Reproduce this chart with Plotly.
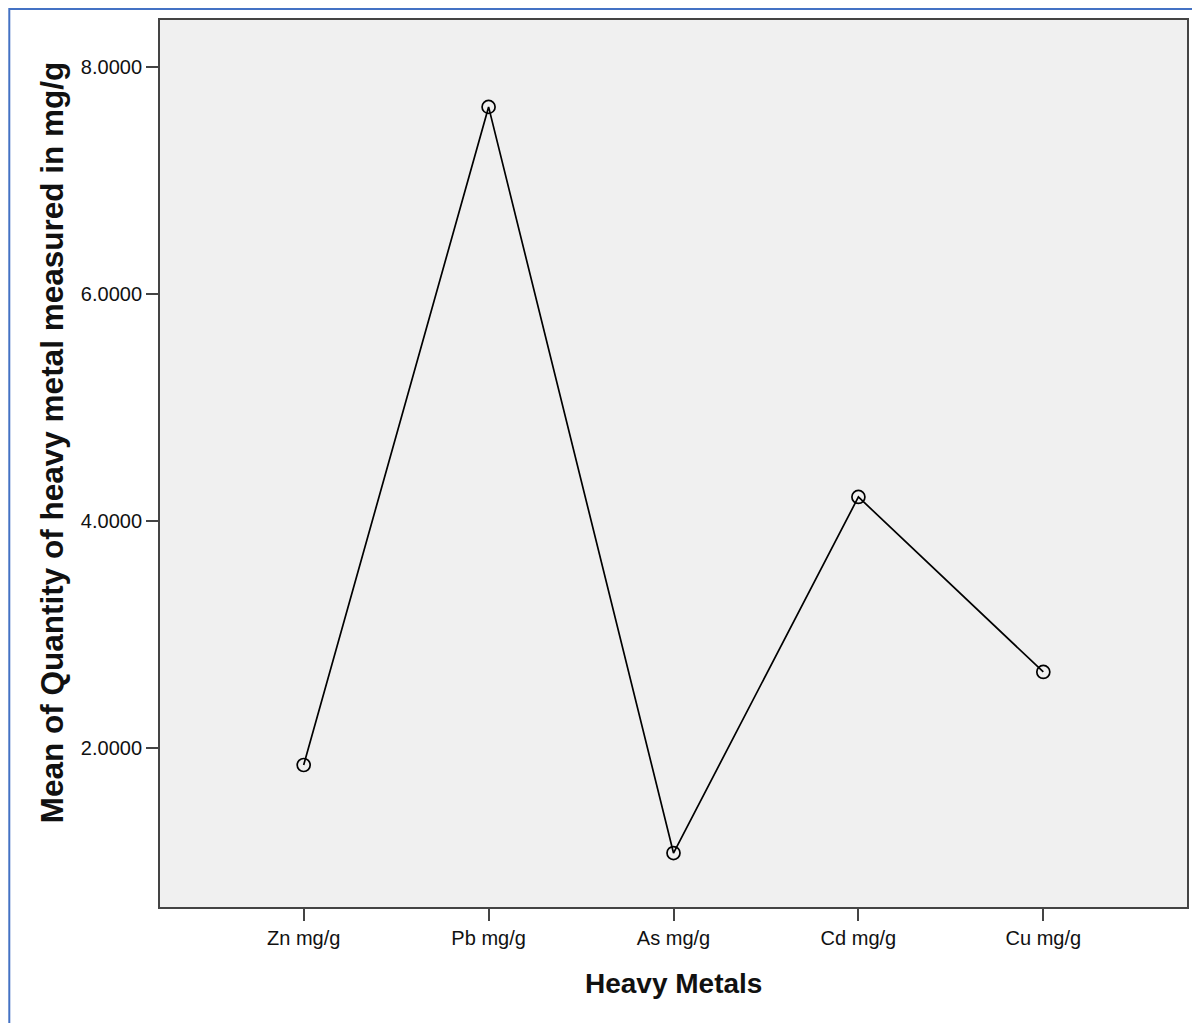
import plotly.graph_objects as go

categories = ["Zn mg/g", "Pb mg/g", "As mg/g", "Cd mg/g", "Cu mg/g"]
means = [1.853, 7.645, 1.078, 4.212, 2.672]
y_ticks = [2, 4, 6, 8]
y_ticktext = ["2.0000", "4.0000", "6.0000", "8.0000"]

W, H = 1192, 1023
L, R, T, B = 160, 3, 20, 116
pw, ph = W - L - R, H - T - B

def px_x(p):
    return (p - L) / pw

def px_y(p):
    return (H - B - p) / ph

fig = go.Figure()
fig.add_trace(go.Scatter(
    x=categories, y=means, mode="lines+markers",
    line=dict(color="black", width=1.7),
    marker=dict(symbol="circle-open", size=13, color="black", line=dict(width=1.7)),
    showlegend=False,
))

fig.update_layout(
    width=W, height=H,
    margin=dict(l=L, r=R, t=T, b=B),
    paper_bgcolor="white",
    plot_bgcolor="#F0F0F0",
    font=dict(family="Liberation Sans, Arial, sans-serif", color="#111111"),
)
fig.update_xaxes(
    type="category", range=[-0.777, 4.777],
    showgrid=False, zeroline=False,
    showline=True, linecolor="#444444", linewidth=2, mirror=True,
    ticks="outside", ticklen=12, tickwidth=2, tickcolor="#444444",
    tickfont=dict(size=20, color="#111111"),
)
fig.update_yaxes(
    range=[0.603, 8.41],
    tickvals=y_ticks, ticktext=y_ticktext,
    showgrid=False, zeroline=False,
    showline=True, linecolor="#444444", linewidth=2, mirror=True,
    ticks="outside", ticklen=12, tickwidth=2, tickcolor="#444444",
    tickfont=dict(size=20, color="#111111"),
)

fig.add_annotation(
    text="<b>Mean of Quantity of heavy metal measured in mg/g</b>",
    xref="paper", yref="paper", x=px_x(52), y=px_y(443),
    xanchor="center", yanchor="middle", textangle=-90, showarrow=False,
    font=dict(size=31.5, color="#111111", family="Liberation Sans, Arial, sans-serif"),
)
fig.add_annotation(
    text="<b>Heavy Metals</b>",
    xref="paper", yref="paper", x=px_x(675), y=px_y(983),
    xanchor="center", yanchor="middle", showarrow=False,
    font=dict(size=28, color="#111111", family="Liberation Sans, Arial, sans-serif"),
)

# outer blue frame (top and left visible)
fig.add_shape(
    type="rect", xref="paper", yref="paper",
    x0=px_x(9), x1=px_x(1215), y0=px_y(1045), y1=px_y(9),
    line=dict(color="#4472C4", width=2), fillcolor="rgba(0,0,0,0)", layer="above",
)

fig.write_html(
    "out.html",
    config={"displayModeBar": False},
    post_script="document.body.style.margin='0';document.body.style.overflow='hidden';",
)
